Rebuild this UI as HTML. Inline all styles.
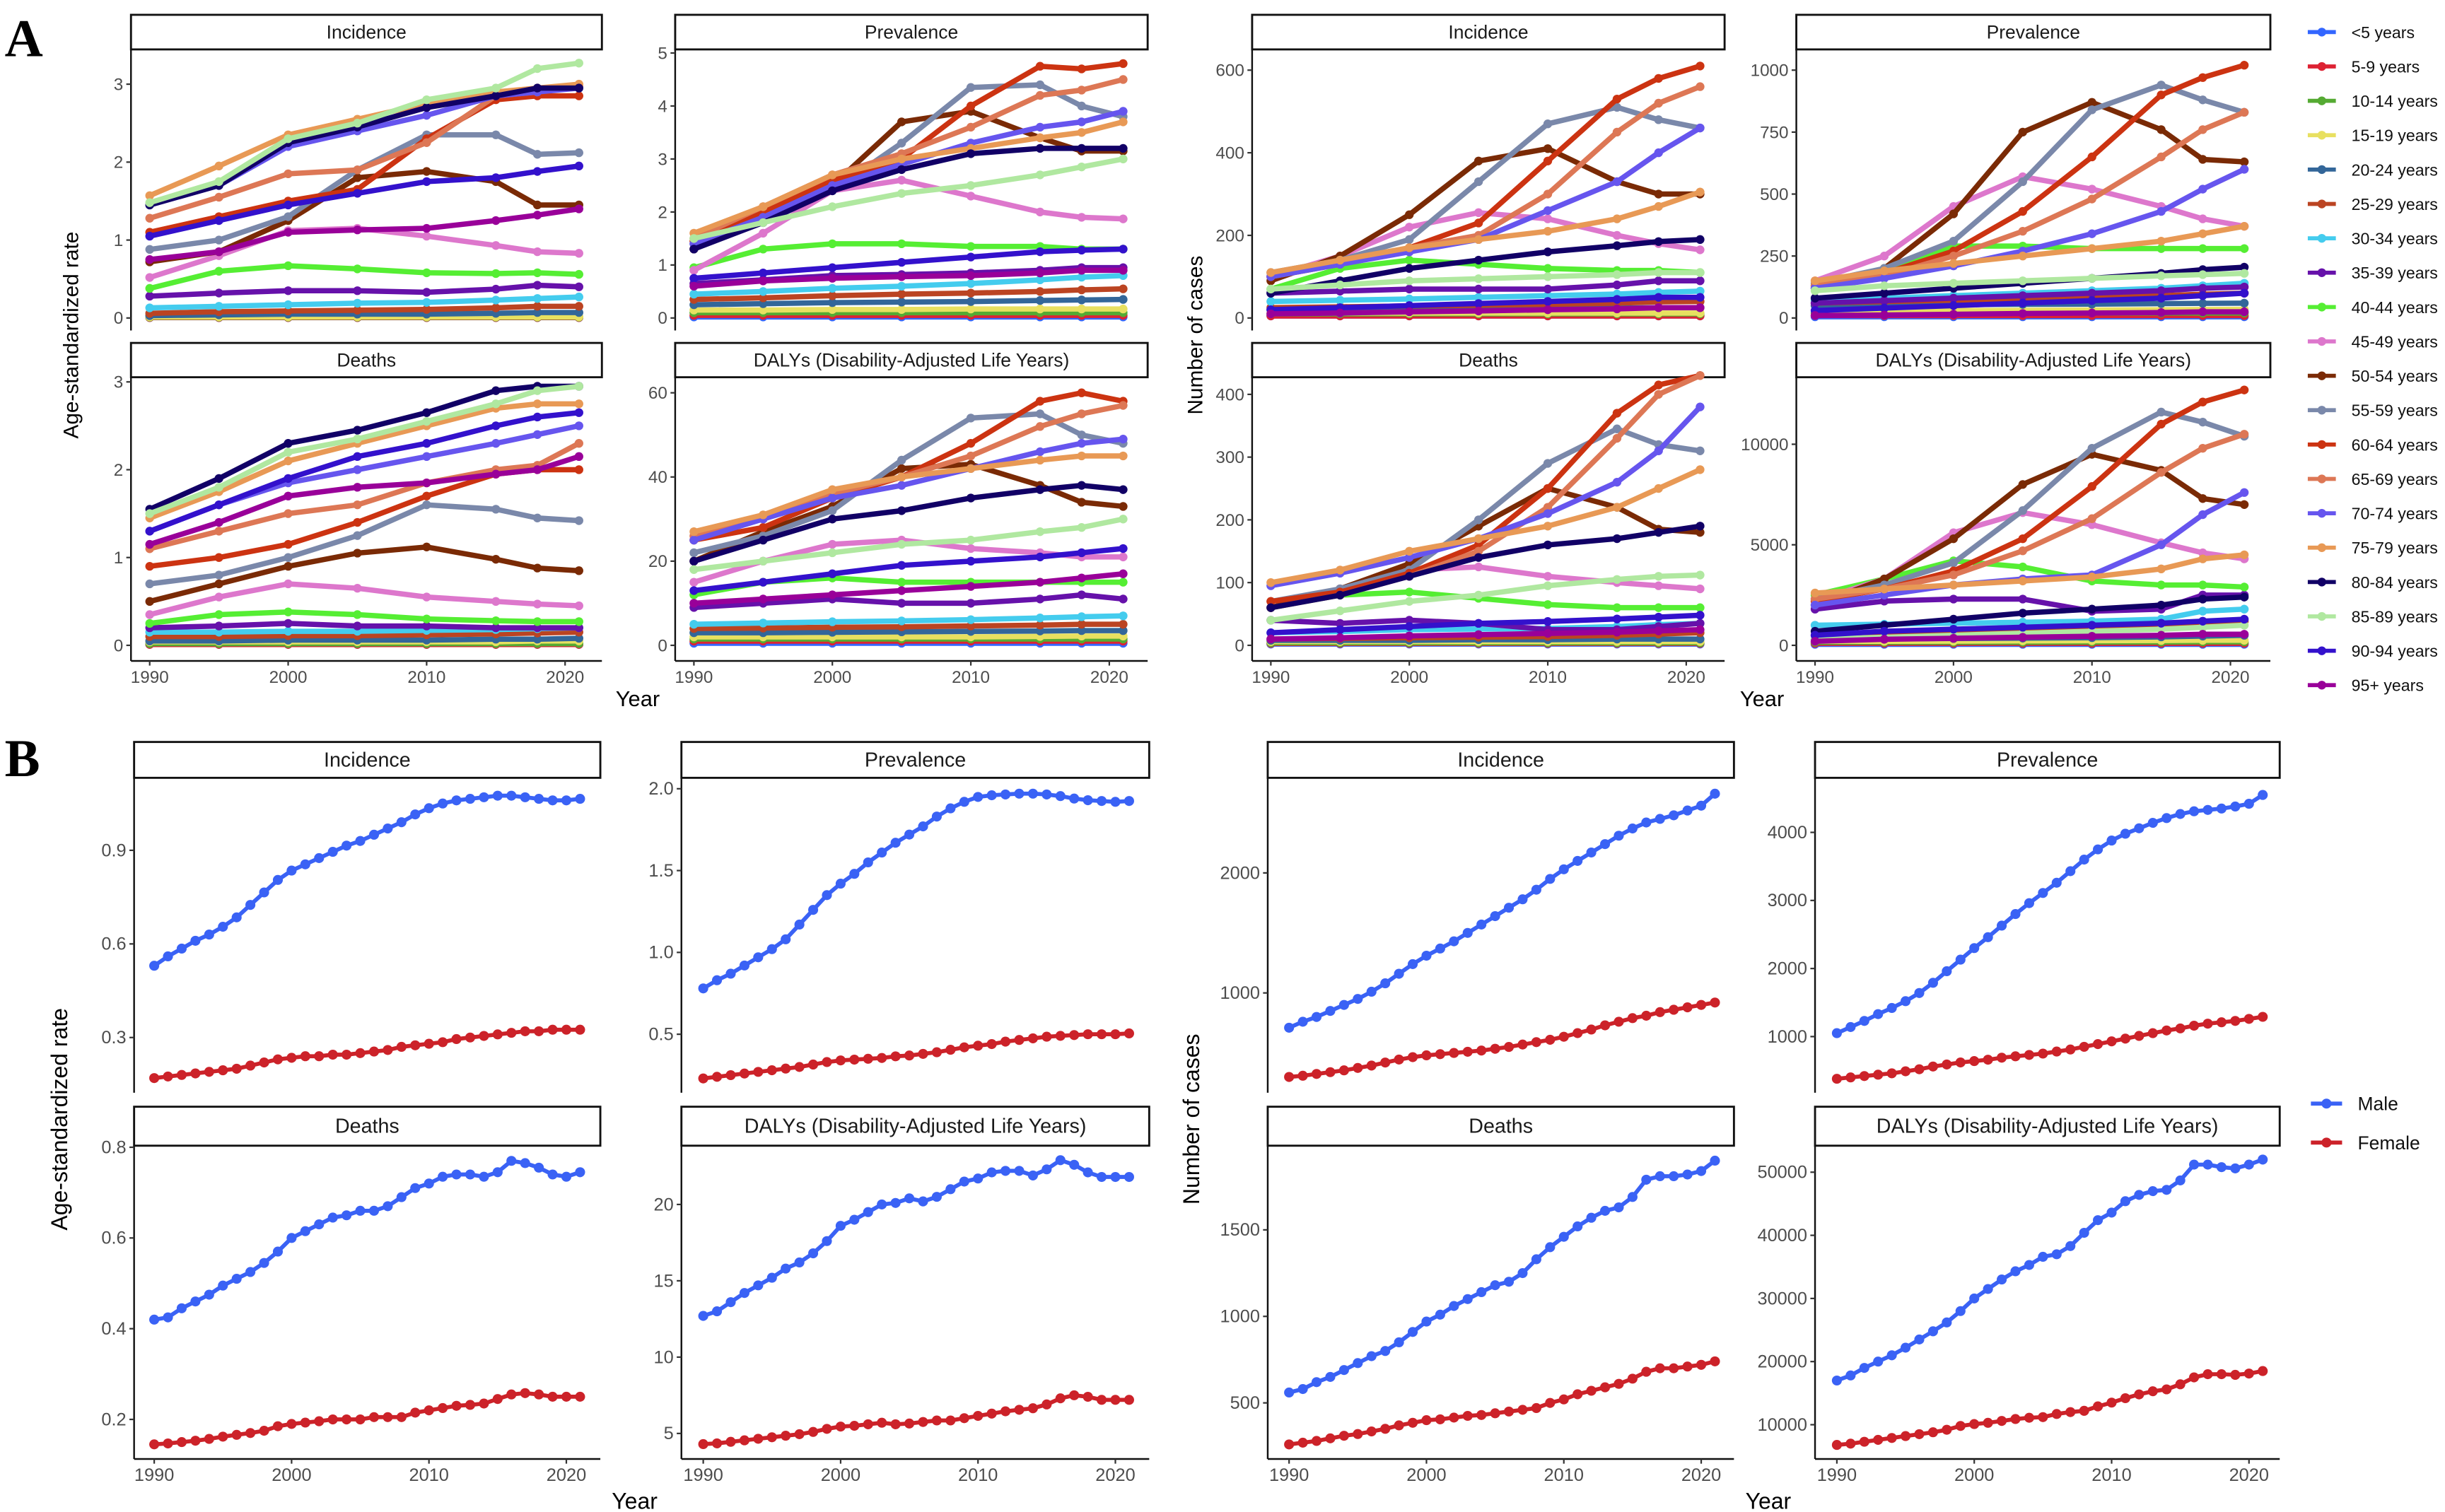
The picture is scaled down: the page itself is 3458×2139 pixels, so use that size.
<!DOCTYPE html>
<html><head><meta charset="utf-8">
<style>
html,body{margin:0;padding:0;background:#fff;}
svg{display:block;}
text{font-family:"Liberation Sans",Arial,sans-serif;}
</style></head>
<body>
<svg id="chart" xmlns="http://www.w3.org/2000/svg" width="3458" height="2139" viewBox="0 0 1568 970" preserveAspectRatio="none">
<rect x="0" y="0" width="1568" height="970" fill="#fff"/>
<text x="3" y="36" font-size="34" font-weight="bold" style="font-family:'Liberation Serif',serif">A</text>
<text x="3" y="498" font-size="34" font-weight="bold" style="font-family:'Liberation Serif',serif">B</text>
<text transform="translate(50,215) rotate(-90)" font-size="13.5" text-anchor="middle">Age-standardized rate</text>
<text transform="translate(771,215) rotate(-90)" font-size="13.5" text-anchor="middle">Number of cases</text>
<text x="409" y="453" font-size="14" text-anchor="middle">Year</text>
<text x="1130" y="453" font-size="14" text-anchor="middle">Year</text>
<text transform="translate(43,718) rotate(-90)" font-size="14.5" text-anchor="middle">Age-standardized rate</text>
<text transform="translate(769,718) rotate(-90)" font-size="14.5" text-anchor="middle">Number of cases</text>
<text x="407" y="968" font-size="14.5" text-anchor="middle">Year</text>
<text x="1134" y="968" font-size="14.5" text-anchor="middle">Year</text>
<g id="plots"></g>
<g id="legendA"></g>
<g id="legendB"></g>
</svg>
<script>
const ageGroups=["<5 years","5-9 years","10-14 years","15-19 years","20-24 years","25-29 years","30-34 years","35-39 years","40-44 years","45-49 years","50-54 years","55-59 years","60-64 years","65-69 years","70-74 years","75-79 years","80-84 years","85-89 years","90-94 years","95+ years"];
const ageColors=["#3366ff","#dd2233","#55aa33","#e8e060","#336699","#bb4422","#44ccee","#6611aa","#55ee33","#dd77cc","#7a2a05","#7a88aa","#cc3311","#dd7755","#6655ee","#e89955","#110066","#b0e8a0","#3311cc","#990099"];
const yearsA=[1990,1995,2000,2005,2010,2015,2018,2021];
const incRate=[
[0.005,0.005,0.005,0.005,0.005,0.005,0.005,0.005],[0.005,0.005,0.005,0.005,0.005,0.005,0.005,0.005],[0.01,0.01,0.01,0.01,0.01,0.01,0.01,0.01],[0.015,0.015,0.015,0.015,0.015,0.015,0.015,0.015],
[0.03,0.04,0.05,0.05,0.05,0.06,0.07,0.07],[0.06,0.08,0.09,0.1,0.11,0.13,0.15,0.15],[0.13,0.15,0.17,0.19,0.2,0.23,0.25,0.27],[0.28,0.32,0.35,0.35,0.33,0.37,0.42,0.4],
[0.38,0.6,0.67,0.63,0.58,0.57,0.58,0.56],[0.52,0.8,1.12,1.15,1.05,0.93,0.85,0.83],[0.72,0.85,1.25,1.8,1.88,1.75,1.45,1.45],[0.88,1.0,1.3,1.9,2.35,2.35,2.1,2.12],
[1.1,1.3,1.5,1.65,2.3,2.8,2.85,2.85],[1.28,1.55,1.85,1.9,2.25,2.85,2.9,2.97],[1.45,1.7,2.2,2.4,2.6,2.85,2.9,2.95],[1.57,1.95,2.35,2.55,2.75,2.9,2.95,3.0],
[1.45,1.7,2.25,2.45,2.7,2.85,2.95,2.95],[1.48,1.75,2.3,2.5,2.8,2.95,3.2,3.27],[1.05,1.25,1.45,1.6,1.75,1.8,1.88,1.95],[0.75,0.85,1.1,1.13,1.15,1.25,1.32,1.4]];
const prevRate=[
[0.02,0.02,0.02,0.02,0.02,0.02,0.02,0.02],[0.05,0.05,0.05,0.05,0.05,0.05,0.05,0.05],[0.1,0.1,0.1,0.1,0.1,0.1,0.1,0.1],[0.15,0.15,0.16,0.16,0.17,0.17,0.17,0.17],
[0.25,0.27,0.29,0.3,0.31,0.33,0.34,0.35],[0.35,0.38,0.42,0.45,0.47,0.5,0.53,0.55],[0.45,0.5,0.56,0.6,0.65,0.72,0.77,0.8],[0.65,0.72,0.8,0.82,0.85,0.9,0.95,0.95],
[0.95,1.3,1.4,1.4,1.35,1.35,1.3,1.3],[0.9,1.6,2.4,2.6,2.3,2.0,1.9,1.87],[1.3,1.9,2.5,3.7,3.9,3.4,3.15,3.15],[1.4,1.9,2.4,3.3,4.35,4.4,4.0,3.8],
[1.45,2.0,2.6,3.0,4.0,4.75,4.7,4.8],[1.5,2.1,2.7,3.1,3.6,4.2,4.3,4.5],[1.4,1.9,2.5,2.9,3.3,3.6,3.7,3.9],[1.6,2.1,2.7,3.0,3.2,3.4,3.5,3.7],
[1.3,1.8,2.4,2.8,3.1,3.2,3.2,3.2],[1.5,1.8,2.1,2.35,2.5,2.7,2.85,3.0],[0.75,0.85,0.95,1.05,1.15,1.25,1.28,1.3],[0.6,0.7,0.75,0.78,0.8,0.85,0.9,0.9]];
const incCount=[
[5,5,5,5,5,5,5,5],[5,5,5,5,5,5,5,5],[10,10,10,10,10,10,10,10],[12,12,12,12,12,12,12,12],
[20,21,22,22,23,24,25,25],[25,27,29,31,33,36,39,40],[40,43,46,50,54,58,62,65],[60,65,70,70,70,80,90,90],
[70,120,140,130,120,115,115,110],[100,150,220,255,240,200,180,165],[90,150,250,380,410,330,300,300],[110,140,190,330,470,510,480,460],
[100,130,170,230,380,530,580,610],[100,130,170,200,300,450,520,560],[100,130,160,190,260,330,400,460],[110,140,170,190,210,240,270,305],
[60,90,120,140,160,175,185,190],[70,80,90,95,100,105,110,110],[20,25,30,35,40,45,50,50],[10,12,15,17,20,22,25,25]];
const prevCount=[
[5,5,5,5,5,5,5,5],[10,10,10,10,10,10,10,10],[20,20,20,20,20,20,20,20],[30,30,30,31,32,33,34,35],
[50,52,54,55,56,58,59,60],[60,66,72,78,84,90,96,100],[70,80,90,100,110,120,130,140],[60,70,80,90,100,110,120,125],
[120,200,290,290,280,280,280,280],[150,250,450,570,520,450,400,370],[120,200,420,750,870,760,640,630],[140,200,310,550,840,940,880,830],
[130,180,270,430,650,900,970,1020],[130,170,250,350,480,650,760,830],[120,160,210,270,340,430,520,600],[150,190,220,250,280,310,340,370],
[80,100,120,140,160,180,195,205],[110,130,140,150,160,170,175,180],[30,40,50,60,70,80,90,100],[10,12,15,18,20,22,25,25]];
const deathRate=[
[0.01,0.01,0.01,0.01,0.01,0.01,0.01,0.01],[0.01,0.01,0.01,0.01,0.01,0.01,0.01,0.01],[0.02,0.02,0.02,0.02,0.02,0.02,0.02,0.02],[0.04,0.04,0.04,0.04,0.04,0.04,0.05,0.05],
[0.05,0.05,0.06,0.06,0.06,0.07,0.07,0.08],[0.1,0.1,0.11,0.11,0.12,0.13,0.14,0.15],[0.15,0.15,0.16,0.16,0.17,0.18,0.19,0.2],[0.2,0.22,0.25,0.22,0.22,0.2,0.2,0.2],
[0.25,0.35,0.38,0.35,0.3,0.28,0.27,0.27],[0.35,0.55,0.7,0.65,0.55,0.5,0.47,0.45],[0.5,0.7,0.9,1.05,1.12,0.98,0.88,0.85],[0.7,0.8,1.0,1.25,1.6,1.55,1.45,1.42],
[0.9,1.0,1.15,1.4,1.7,1.95,2.0,2.0],[1.1,1.3,1.5,1.6,1.85,2.0,2.05,2.3],[1.3,1.6,1.85,2.0,2.15,2.3,2.4,2.5],[1.45,1.75,2.1,2.3,2.5,2.7,2.75,2.75],
[1.55,1.9,2.3,2.45,2.65,2.9,2.95,2.95],[1.5,1.8,2.2,2.35,2.55,2.75,2.9,2.95],[1.3,1.6,1.9,2.15,2.3,2.5,2.6,2.65],[1.15,1.4,1.7,1.8,1.85,1.95,2.0,2.15]];
const dalyRate=[
[0.5,0.5,0.5,0.5,0.5,0.5,0.5,0.5],[1,1,1,1,1,1,1,1],[1.5,1.5,1.5,1.5,1.5,1.5,1.5,1.5],[2,2,2,2,2,2.1,2.2,2.2],
[3,3,3.1,3.2,3.3,3.4,3.5,3.5],[4,4.1,4.3,4.4,4.6,4.8,5,5],[5,5.3,5.6,5.8,6.1,6.5,6.8,7],[9,10,11,10,10,11,12,11],
[12,15,16,15,15,15,15,15],[15,20,24,25,23,22,21,21],[20,27,33,42,43,38,34,33],[22,26,32,44,54,55,50,48],
[25,28,35,40,48,58,60,58],[26,30,36,40,45,52,55,57],[25,30,35,38,42,46,48,49],[27,31,37,40,42,44,45,45],
[20,25,30,32,35,37,38,37],[18,20,22,24,25,27,28,30],[13,15,17,19,20,21,22,23],[10,11,12,13,14,15,16,17]];
const deathCount=[
[2,2,2,2,2,2,2,2],[3,3,3,3,3,3,3,3],[4,4,4,4,4,4,4,4],[6,6,6,6,6,6,6,6],
[8,8,8,9,9,10,10,10],[10,11,12,13,14,16,18,20],[20,22,25,26,27,30,33,35],[40,35,40,35,25,25,30,35],
[60,80,85,75,65,60,60,60],[60,90,120,125,110,100,95,90],[60,90,130,190,250,220,185,180],[70,90,120,200,290,345,320,310],
[70,85,115,160,250,370,415,430],[60,80,110,150,220,330,400,430],[95,115,140,170,210,260,310,380],[100,120,150,170,190,220,250,280],
[60,80,110,140,160,170,180,190],[40,55,70,80,95,105,110,112],[20,25,30,35,38,42,45,48],[10,12,15,17,19,21,23,25]];
const dalyCount=[
[50,50,50,50,50,50,50,50],[100,100,100,100,100,100,100,100],[150,150,150,150,160,160,170,170],[200,200,210,220,230,240,250,250],
[300,320,340,360,380,420,460,500],[500,600,700,800,900,1000,1150,1200],[1000,1050,1100,1150,1200,1300,1700,1800],[1800,2200,2300,2300,1700,1800,2500,2500],
[2500,3300,4200,3900,3200,3000,3000,2900],[2200,3300,5600,6600,6000,5100,4600,4300],[2000,3300,5300,8000,9500,8700,7300,7000],[2300,3000,4100,6700,9800,11600,11100,10400],
[2200,2800,3700,5300,7900,11000,12100,12700],[2300,2800,3500,4700,6300,8600,9800,10500],[2000,2500,3000,3300,3500,5000,6500,7600],[2600,2800,3000,3200,3400,3800,4300,4500],
[700,1000,1300,1600,1800,2000,2300,2400],[300,400,500,600,700,800,900,1000],[500,700,800,900,1000,1100,1200,1300],[200,300,350,400,450,500,550,550]];

const yearsB=[1990,1991,1992,1993,1994,1995,1996,1997,1998,1999,2000,2001,2002,2003,2004,2005,2006,2007,2008,2009,2010,2011,2012,2013,2014,2015,2016,2017,2018,2019,2020,2021];
const sexNames=["Male","Female"];
const sexColors=["#3a62f5","#cc2229"];
const bIncRateM=[0.53,0.56,0.585,0.61,0.63,0.655,0.685,0.725,0.765,0.805,0.835,0.855,0.875,0.895,0.915,0.93,0.95,0.97,0.99,1.015,1.035,1.05,1.06,1.065,1.07,1.075,1.075,1.07,1.065,1.06,1.06,1.065];
const bIncRateF=[0.17,0.175,0.18,0.185,0.19,0.195,0.2,0.21,0.22,0.23,0.235,0.24,0.24,0.245,0.245,0.25,0.255,0.26,0.27,0.275,0.28,0.285,0.295,0.3,0.305,0.31,0.315,0.32,0.32,0.325,0.325,0.325];
const bPrevRateM=[0.78,0.83,0.87,0.92,0.97,1.02,1.08,1.17,1.26,1.35,1.42,1.48,1.55,1.61,1.67,1.72,1.77,1.83,1.88,1.92,1.95,1.96,1.965,1.97,1.97,1.965,1.955,1.94,1.93,1.925,1.92,1.925];
const bPrevRateF=[0.23,0.24,0.25,0.26,0.27,0.28,0.29,0.3,0.315,0.33,0.34,0.345,0.35,0.355,0.365,0.37,0.38,0.39,0.405,0.42,0.43,0.44,0.455,0.465,0.475,0.485,0.49,0.495,0.5,0.5,0.5,0.505];
const bDeathRateM=[0.42,0.425,0.445,0.46,0.475,0.495,0.51,0.525,0.545,0.57,0.6,0.615,0.63,0.645,0.65,0.66,0.66,0.67,0.69,0.71,0.72,0.735,0.74,0.74,0.735,0.745,0.77,0.765,0.755,0.74,0.735,0.745];
const bDeathRateF=[0.145,0.147,0.15,0.153,0.157,0.162,0.166,0.17,0.175,0.185,0.19,0.193,0.196,0.2,0.2,0.2,0.205,0.205,0.205,0.215,0.22,0.225,0.23,0.232,0.235,0.245,0.255,0.258,0.255,0.25,0.25,0.25];
const bDalyRateM=[12.7,13.0,13.6,14.2,14.7,15.2,15.8,16.2,16.8,17.6,18.6,19.0,19.5,20.0,20.1,20.4,20.2,20.5,21.0,21.5,21.7,22.1,22.2,22.2,21.9,22.3,22.9,22.6,22.1,21.8,21.8,21.8];
const bDalyRateF=[4.3,4.35,4.45,4.55,4.65,4.75,4.85,4.95,5.1,5.3,5.45,5.5,5.6,5.7,5.6,5.65,5.75,5.85,5.85,6.0,6.15,6.3,6.45,6.55,6.65,6.9,7.3,7.5,7.4,7.2,7.2,7.2];
const bIncCountM=[710,760,800,850,900,950,1010,1080,1160,1240,1310,1370,1430,1500,1570,1640,1710,1780,1860,1950,2030,2100,2170,2240,2310,2370,2420,2450,2480,2520,2560,2660];
const bIncCountF=[300,310,325,340,355,375,395,420,445,465,480,490,500,510,520,535,550,570,590,610,635,665,695,730,760,790,810,840,860,880,900,920];
const bPrevCountM=[1050,1140,1230,1330,1420,1520,1640,1790,1960,2130,2300,2460,2630,2800,2960,3110,3260,3430,3600,3750,3880,3980,4060,4140,4210,4270,4310,4330,4350,4380,4420,4550];
const bPrevCountF=[380,400,420,440,460,490,520,560,590,620,640,660,690,710,730,750,780,810,850,890,930,970,1010,1050,1090,1120,1160,1190,1210,1230,1260,1290];
const bDeathCountM=[560,580,620,650,690,730,770,800,850,910,970,1010,1060,1100,1140,1180,1200,1250,1330,1400,1460,1520,1570,1610,1630,1690,1790,1810,1810,1820,1840,1900];
const bDeathCountF=[260,270,280,295,310,320,335,350,370,385,400,405,415,425,430,440,450,460,470,500,520,550,570,590,610,640,680,700,700,710,720,740];
const bDalyCountM=[17000,17800,19000,20000,21000,22200,23500,24800,26200,28000,30000,31500,33000,34300,35300,36600,37000,38300,40400,42400,43600,45400,46400,47000,47200,48700,51200,51200,50800,50600,51200,52000];
const bDalyCountF=[6800,7000,7300,7600,7900,8200,8500,8800,9200,9800,10100,10300,10600,10900,11100,11200,11700,12000,12200,12900,13500,14200,14800,15300,15600,16400,17500,18000,18000,17900,18100,18500];

const xTickYears=[1990,2000,2010,2020];
const tA1=[0,1,2,3], tA2=[0,1,2,3,4,5], tA3=[0,200,400,600], tA4=[0,250,500,750,1000];
const tA5=[0,1,2,3], tA6=[0,20,40,60], tA7=[0,100,200,300,400], tA8=[0,5000,10000];
const tB1=[0.3,0.6,0.9], lB1=["0.3","0.6","0.9"];
const tB2=[0.5,1.0,1.5,2.0], lB2=["0.5","1.0","1.5","2.0"];
const tB3=[1000,2000], tB4=[1000,2000,3000,4000];
const tB5=[0.2,0.4,0.6,0.8], lB5=["0.2","0.4","0.6","0.8"];
const tB6=[5,10,15,20], tB7=[500,1000,1500], tB8=[10000,20000,30000,40000,50000];

const NS="http://www.w3.org/2000/svg";
const root=document.getElementById('plots');
function mk(tag,attrs,parent){const e=document.createElementNS(NS,tag);for(const k in attrs)e.setAttribute(k,attrs[k]);parent.appendChild(e);return e;}

function panel(p){
  const g=mk('g',{},root);
  
  
  const yScale=v=>p.cal[1]+(v-p.cal[0])*(p.cal[3]-p.cal[1])/(p.cal[2]-p.cal[0]);
  const xScale=yr=>p.x1990+(yr-1990)*p.step;
  const s=mk('rect',{x:p.x0,y:p.st,width:p.x1-p.x0,height:p.sb-p.st,fill:'#fff',stroke:'#111','stroke-width':1.3},g);
  
  
  const st=mk('text',{x:(p.x0+p.x1)/2,y:(p.st+p.sb)/2+4.2,'font-size':p.fs||12,'text-anchor':'middle',fill:'#1a1a1a'},g);
  st.textContent=p.title;
  
  
  const ya=mk('line',{x1:p.x0,y1:p.sb,x2:p.x0,y2:p.pb,stroke:'#111','stroke-width':1.1},g);
  
  
  p.ticks.forEach((t,i)=>{
    const y=yScale(t);
    mk('line',{x1:p.x0-3,y1:y,x2:p.x0,y2:y,stroke:'#333','stroke-width':1},g);
    const tl=mk('text',{x:p.x0-5,y:y+3.8,'font-size':p.tfs||11,'text-anchor':'end',fill:'#4d4d4d'},g);
    tl.textContent=p.labels?p.labels[i]:String(t);
    
    
  });
  if(p.showX){
    const xa=mk('line',{x1:p.x0,y1:p.pb,x2:p.x1,y2:p.pb,stroke:'#111','stroke-width':1.1},g);
    
    
    xTickYears.forEach(yr=>{
      const x=xScale(yr);
      mk('line',{x1:x,y1:p.pb,x2:x,y2:p.pb+3,stroke:'#333','stroke-width':1},g);
      const tl=mk('text',{x:x,y:p.pb+14,'font-size':p.tfs||11,'text-anchor':'middle',fill:'#4d4d4d'},g);
      tl.textContent=String(yr);
      
      
    });
  }
  p.series.forEach(sr=>{
    const sg=mk('g',{},g);
    
    
    const pts=sr.vals.map((v,i)=>xScale(sr.years[i]).toFixed(2)+','+yScale(v).toFixed(2));
    const pl=mk('polyline',{points:pts.join(' '),fill:'none',stroke:sr.color,'stroke-width':sr.w,'stroke-linejoin':'round','stroke-linecap':'round'},sg);
    
    
    sr.vals.forEach((v,i)=>{
      const c=mk('circle',{cx:xScale(sr.years[i]),cy:yScale(v),r:sr.r,fill:sr.color},sg);
      
      
    });
  });
}
function ageSeries(data,prefix){return data.map((vals,i)=>({name:prefix+'-'+ageGroups[i].replace(/[^0-9a-z]+/gi,'-').toLowerCase(),vals:vals,years:yearsA,color:ageColors[i],w:3.4,r:2.8}));}
function sexSeries(m,f,prefix){return [{name:prefix+'-male',vals:m,years:yearsB,color:sexColors[0],w:2.6,r:3.2},{name:prefix+'-female',vals:f,years:yearsB,color:sexColors[1],w:2.6,r:3.2}];}

const A_COLS=[[84,386,96],[433,736,445],[803,1106,815],[1152,1456,1164]];
const stepA=8.88;
const rowA=[{st:9.5,sb:31.7,pb:212},{st:220,sb:242,pb:424}];
const defsA=[
 {c:0,r:0,title:'Incidence',data:incRate,ticks:tA1,cal:[0,204,3,54],name:'a-incidence-rate'},
 {c:1,r:0,title:'Prevalence',data:prevRate,ticks:tA2,cal:[0,204,5,34],name:'a-prevalence-rate'},
 {c:2,r:0,title:'Incidence',data:incCount,ticks:tA3,cal:[0,204,600,45],name:'a-incidence-count'},
 {c:3,r:0,title:'Prevalence',data:prevCount,ticks:tA4,cal:[0,204,1000,45],name:'a-prevalence-count'},
 {c:0,r:1,title:'Deaths',data:deathRate,ticks:tA5,cal:[0,414,3,245],name:'a-deaths-rate'},
 {c:1,r:1,title:'DALYs (Disability-Adjusted Life Years)',data:dalyRate,ticks:tA6,cal:[0,414,60,252],name:'a-dalys-rate'},
 {c:2,r:1,title:'Deaths',data:deathCount,ticks:tA7,cal:[0,414,400,253],name:'a-deaths-count'},
 {c:3,r:1,title:'DALYs (Disability-Adjusted Life Years)',data:dalyCount,ticks:tA8,cal:[0,414,10000,285],name:'a-dalys-count'}];
defsA.forEach(d=>{
  const col=A_COLS[d.c],row=rowA[d.r];
  panel({name:d.name,x0:col[0],x1:col[1],x1990:col[2],step:stepA,st:row.st,sb:row.sb,pb:row.pb,title:d.title,ticks:d.ticks,cal:d.cal,showX:d.r===1,series:ageSeries(d.data,d.name)});
});

const B_COLS=[[86,385,98.9],[437,737,451],[813,1112,826.7],[1164,1462,1178]];
const stepB=8.81;
const rowB=[{st:476,sb:499,pb:701},{st:710,sb:735,pb:936}];
const defsB=[
 {c:0,r:0,title:'Incidence',m:bIncRateM,f:bIncRateF,ticks:tB1,labels:lB1,cal:[0.9,545.5,0.3,665.6],name:'b-incidence-rate'},
 {c:1,r:0,title:'Prevalence',m:bPrevRateM,f:bPrevRateF,ticks:tB2,labels:lB2,cal:[2.0,506,0.5,663.5],name:'b-prevalence-rate'},
 {c:2,r:0,title:'Incidence',m:bIncCountM,f:bIncCountF,ticks:tB3,cal:[2000,560,1000,637],name:'b-incidence-count'},
 {c:3,r:0,title:'Prevalence',m:bPrevCountM,f:bPrevCountF,ticks:tB4,cal:[4000,534,1000,665],name:'b-prevalence-count'},
 {c:0,r:1,title:'Deaths',m:bDeathRateM,f:bDeathRateF,ticks:tB5,labels:lB5,cal:[0.8,736,0.2,910.6],name:'b-deaths-rate'},
 {c:1,r:1,title:'DALYs (Disability-Adjusted Life Years)',m:bDalyRateM,f:bDalyRateF,ticks:tB6,cal:[20,772.7,5,919.6],name:'b-dalys-rate'},
 {c:2,r:1,title:'Deaths',m:bDeathCountM,f:bDeathCountF,ticks:tB7,cal:[1500,789,500,900],name:'b-deaths-count'},
 {c:3,r:1,title:'DALYs (Disability-Adjusted Life Years)',m:bDalyCountM,f:bDalyCountF,ticks:tB8,cal:[50000,752,10000,914],name:'b-dalys-count'}];
defsB.forEach(d=>{
  const col=B_COLS[d.c],row=rowB[d.r];
  panel({name:d.name,x0:col[0],x1:col[1],x1990:col[2],step:stepB,st:row.st,sb:row.sb,pb:row.pb,title:d.title,ticks:d.ticks,labels:d.labels,cal:d.cal,showX:d.r===1,fs:13,tfs:11.5,series:sexSeries(d.m,d.f,d.name)});
});

const LA=document.getElementById('legendA');
ageGroups.forEach((n,i)=>{
  const y=20.6+i*22.05;
  const g=mk('g',{},LA);
  
  
  mk('line',{x1:1480,y1:y,x2:1498,y2:y,stroke:ageColors[i],'stroke-width':2.6},g);
  mk('circle',{cx:1489,cy:y,r:2.8,fill:ageColors[i]},g);
  const t=mk('text',{x:1508,y:y+3.8,'font-size':10.5,fill:'#111'},g);
  t.textContent=n;
});
const LB=document.getElementById('legendB');
sexNames.forEach((n,i)=>{
  const y=708+i*25;
  const g=mk('g',{},LB);
  
  
  mk('line',{x1:1482,y1:y,x2:1502,y2:y,stroke:sexColors[i],'stroke-width':2.6},g);
  mk('circle',{cx:1492,cy:y,r:3.2,fill:sexColors[i]},g);
  const t=mk('text',{x:1512,y:y+4.3,'font-size':12,fill:'#111'},g);
  t.textContent=n;
});
</script>
</body></html>
